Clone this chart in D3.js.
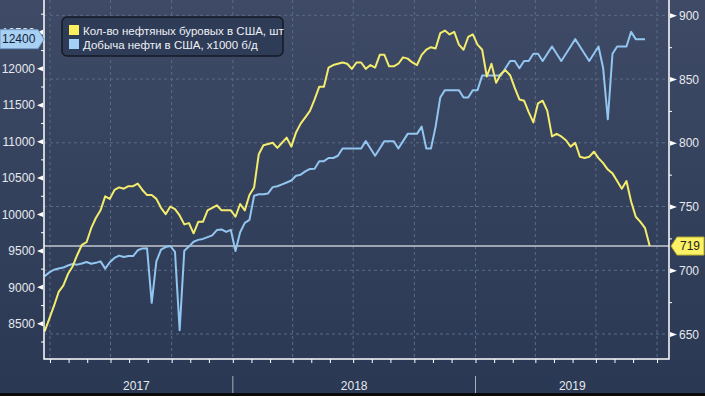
<!DOCTYPE html>
<html>
<head>
<meta charset="utf-8">
<script src="https://cdn.jsdelivr.net/npm/d3@7"></script>
<style>
body { margin: 0; background: #2b3a55; }
svg { display: block; font-family: "Liberation Sans", Arial, sans-serif; }
</style>
</head>
<body>
<svg id="main" width="705" height="396"></svg>
<script>
// weekly data, first week ending 2017-03-24
var rigs2017 = [652, 662, 672, 683, 688, 697, 703, 712, 720, 722, 733, 741, 747, 758, 756, 763, 765, 764, 766, 766, 768, 763, 759, 759, 756, 749, 744, 750, 748, 743, 736, 737, 729, 738, 738, 747, 749, 751, 747, 747, 747];
var rigs2018 = [742, 752, 747, 759, 765, 791, 798, 799, 800, 796, 800, 804, 797, 808, 815, 820, 825, 834, 844, 844, 859, 861, 862, 863, 862, 858, 863, 863, 858, 861, 859, 869, 869, 860, 860, 862, 867, 866, 863, 861, 869, 873, 875, 874, 886, 888, 885, 887, 877, 873, 883, 885];
var rigs2019 = [877, 873, 852, 862, 847, 854, 857, 853, 843, 834, 833, 824, 816, 831, 833, 825, 805, 807, 805, 802, 797, 800, 789, 788, 789, 793, 788, 784, 779, 776, 770, 764, 770, 754, 742, 738, 733, 719];
var prod2017 = [9147, 9199, 9235, 9252, 9265, 9293, 9314, 9305, 9320, 9342, 9318, 9330, 9350, 9250, 9338, 9397, 9429, 9410, 9423, 9423, 9502, 9528, 9530, 8781, 9350, 9510, 9547, 9561, 9480, 8406, 9496, 9553, 9620, 9645, 9658, 9682, 9707, 9780, 9789, 9754, 9782];
var prod2018 = [9492, 9750, 9879, 9919, 10251, 10271, 10271, 10283, 10369, 10381, 10407, 10433, 10460, 10525, 10540, 10586, 10619, 10620, 10723, 10725, 10769, 10769, 10800, 10900, 10900, 10900, 10900, 10900, 11000, 10900, 10800, 10900, 11000, 11000, 11000, 10900, 11000, 11100, 11100, 11100, 11200, 10900, 10900, 11200, 11600, 11700, 11700, 11700, 11700, 11600, 11600, 11700];
var prod2019 = [11700, 11900, 11900, 11900, 11900, 11900, 12000, 12100, 12100, 12000, 12100, 12100, 12200, 12200, 12100, 12200, 12300, 12200, 12100, 12200, 12300, 12400, 12300, 12200, 12100, 12200, 12300, 12000, 11300, 12200, 12300, 12300, 12300, 12500, 12400, 12400, 12400];
var years = ["2017", "2018", "2019"];
var legendNames = ["Кол-во нефтяных буровых в США, шт", "Добыча нефти в США, x1000 б/д"];
var prodTicks = [8500, 9000, 9500, 10000, 10500, 11000, 11500, 12000, 12500];
var rigTicks = [650, 700, 750, 800, 850, 900];

var firstWeek = new Date(2017, 2, 24);
function weekly(vals) {
	return vals.map(function(v, i) { return {date: d3.timeWeek.offset(firstWeek, i), value: v}; });
}
var rigs = weekly(rigs2017.concat(rigs2018, rigs2019));
var prod = weekly(prod2017.concat(prod2018, prod2019));

var svg = d3.select("#main");
var L = 44, R = 669, T = 0, B = 359;

var defs = svg.append("defs");
var grad = defs.append("linearGradient").attr("id", "bg").attr("x1", 0).attr("y1", 0).attr("x2", 0).attr("y2", 1);
grad.append("stop").attr("offset", "0%").attr("stop-color", "#3e4a66");
grad.append("stop").attr("offset", "100%").attr("stop-color", "#2a3853");
defs.append("clipPath").attr("id", "plot").append("rect").attr("x", L).attr("y", T).attr("width", R - L).attr("height", B - T);

svg.append("rect").attr("width", 705).attr("height", 396).attr("fill", "url(#bg)");
svg.append("rect").attr("y", 393).attr("width", 705).attr("height", 3).attr("fill", "#0b0b0b");

var x = d3.scaleTime().domain([new Date(2017, 2, 23), new Date(2019, 9, 19)]).range([L, R]);
var yL = d3.scaleLinear().domain([8010, 12937.5]).range([B, T]);
var yR = d3.scaleLinear().domain([630.4, 912]).range([B, T]);

// grid
var quarters = d3.timeMonth.every(3).range(new Date(2017, 3, 1), new Date(2019, 9, 19));
svg.append("g").selectAll("line").data(quarters).join("line")
	.attr("x1", function(d) { return x(d); }).attr("x2", function(d) { return x(d); })
	.attr("y1", T).attr("y2", B)
	.attr("stroke", "#5b6b88").attr("stroke-dasharray", "3,3");
svg.append("g").selectAll("line").data(rigTicks).join("line")
	.attr("x1", L).attr("x2", R)
	.attr("y1", function(d) { return yR(d); }).attr("y2", function(d) { return yR(d); })
	.attr("stroke", "#5b6b88").attr("stroke-dasharray", "3,3");

// last value line
svg.append("line").attr("x1", L).attr("x2", R)
	.attr("y1", yR(rigs[rigs.length - 1].value)).attr("y2", yR(rigs[rigs.length - 1].value))
	.attr("stroke", "#c3c7cf").attr("stroke-width", 1.6);

var plot = svg.append("g").attr("clip-path", "url(#plot)");
plot.append("path").datum(prod)
	.attr("d", d3.line().x(function(d) { return x(d.date); }).y(function(d) { return yL(d.value); }))
	.attr("fill", "none").attr("stroke", "#92c5ef").attr("stroke-width", 2).attr("stroke-linejoin", "round");
plot.append("path").datum(rigs)
	.attr("d", d3.line().x(function(d) { return x(d.date); }).y(function(d) { return yR(d.value); }))
	.attr("fill", "none").attr("stroke", "#f3ec6c").attr("stroke-width", 2).attr("stroke-linejoin", "round");

// left axis
var axL = svg.append("g").attr("transform", "translate(" + L + ",0)")
	.call(d3.axisLeft(yL).tickValues(prodTicks).tickFormat(d3.format("d")).tickSize(0).tickPadding(9));
axL.select(".domain").remove();
axL.selectAll(".tick text").attr("fill", "#e6e9ef").attr("font-size", 12).attr("dy", "0.35em");
axL.selectAll(".tick").append("path").attr("d", "M-1,-2.5L-1,2.5L-7,0Z").attr("fill", "#fff");
var minL = svg.append("g").attr("transform", "translate(" + L + ",0)")
	.call(d3.axisLeft(yL).tickValues(d3.range(8250, 12800, 500)).tickSize(3).tickFormat(""));
minL.select(".domain").remove();
minL.selectAll("line").attr("stroke", "#fff");

// right axis
var axR = svg.append("g").attr("transform", "translate(" + R + ",0)")
	.call(d3.axisRight(yR).tickValues(rigTicks).tickSize(0).tickPadding(10));
axR.select(".domain").remove();
axR.selectAll(".tick text").attr("fill", "#e6e9ef").attr("font-size", 12).attr("dy", "0.35em");
axR.selectAll(".tick").append("path").attr("d", "M1,-2.5L1,2.5L8,0Z").attr("fill", "#fff");
var minR = svg.append("g").attr("transform", "translate(" + R + ",0)")
	.call(d3.axisRight(yR).tickValues(d3.range(675, 912, 50)).tickSize(3).tickFormat(""));
minR.select(".domain").remove();
minR.selectAll("line").attr("stroke", "#fff");

// bottom axis, 4-4-5 week ticks
var tickDates = [];
quarters.forEach(function(q) { [0, 28, 56].forEach(function(o) { tickDates.push(d3.timeDay.offset(q, o)); }); });
var axB = svg.append("g").attr("transform", "translate(0," + B + ")")
	.call(d3.axisBottom(x).tickValues(tickDates.filter(function(d) { return d <= x.domain()[1]; })).tickSize(4).tickFormat(""));
axB.select(".domain").remove();
axB.selectAll("line").attr("stroke", "#fff");

svg.append("path").attr("d", "M" + L + "," + T + "V" + B + "H" + R + "V" + T)
	.attr("fill", "none").attr("stroke", "#fff").attr("stroke-width", 1.5);

// years
var yearStarts = years.map(function(y) { return new Date(+y, 0, 1); });
svg.append("g").selectAll("line").data(yearStarts.slice(1)).join("line")
	.attr("x1", function(d) { return x(d); }).attr("x2", function(d) { return x(d); })
	.attr("y1", 376).attr("y2", 393).attr("stroke", "#aab0bc").attr("stroke-width", 1);
svg.append("g").selectAll("text").data(years).join("text")
	.attr("x", function(d, i) {
		var a = i == 0 ? L - 4 : x(yearStarts[i]);
		var b = i == years.length - 1 ? R : x(yearStarts[i + 1]);
		return (a + b) / 2;
	})
	.attr("y", 390).attr("text-anchor", "middle").attr("fill", "#e6e9ef").attr("font-size", 12)
	.text(function(d) { return d; });

// legend
var lg = svg.append("g");
lg.append("rect").attr("x", 62).attr("y", 17).attr("width", 221).attr("height", 39).attr("rx", 5)
	.attr("fill", "#2e3c58").attr("stroke", "#151a24").attr("stroke-width", 1.5);
var lcol = ["#fbf05c", "#a3d0f6"];
legendNames.forEach(function(n, i) {
	lg.append("rect").attr("x", 69).attr("y", 25 + i * 14).attr("width", 10).attr("height", 10).attr("fill", lcol[i]);
	lg.append("text").attr("x", 83).attr("y", 34.5 + i * 14).attr("fill", "#eef0f4").attr("font-size", 11.5).text(n);
});

// last value labels
var lastP = prod[prod.length - 1].value, yp = yL(lastP);
svg.append("path").attr("d", "M0," + (yp - 9.5) + "H38L44," + yp + "L38," + (yp + 9.5) + "H0Z")
	.attr("fill", "#a8d0f2").attr("stroke", "#6f9cc6");
svg.append("text").attr("x", 2).attr("y", yp).attr("dy", "0.36em").attr("font-size", 12).attr("fill", "#14233a").text(lastP);
var lastR = rigs[rigs.length - 1].value, yr = yR(lastR);
svg.append("path").attr("d", "M671," + yr + "L677," + (yr - 9) + "H704V" + (yr + 9) + "H677Z")
	.attr("fill", "#fbf266").attr("stroke", "#b8ad30");
svg.append("text").attr("x", 680).attr("y", yr).attr("dy", "0.36em").attr("font-size", 12).attr("fill", "#222").text(lastR);
</script>
</body>
</html>
